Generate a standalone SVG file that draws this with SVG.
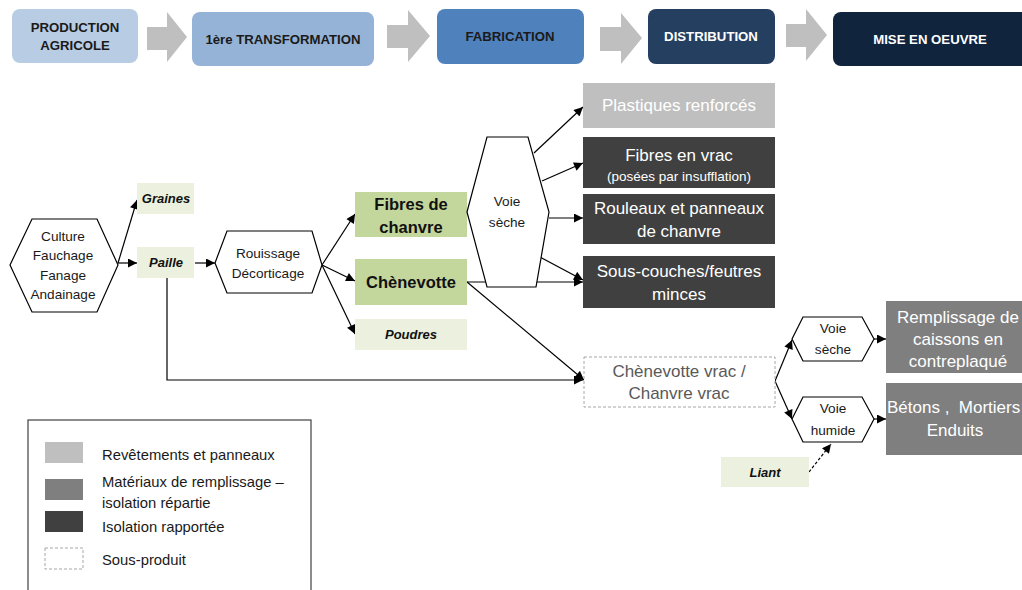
<svg xmlns="http://www.w3.org/2000/svg" width="1022" height="590" viewBox="0 0 1022 590">
  <defs>
    <marker id="ah" viewBox="0 0 10 10" refX="10" refY="5" markerWidth="10" markerHeight="9" markerUnits="userSpaceOnUse" orient="auto">
      <path d="M0,0 L10,5 L0,10 Z" fill="#000"/>
    </marker>
    <style>
      text { font-family: "Liberation Sans", Arial, sans-serif; }
      .hd { font-size: 13.2px; font-weight: bold; text-anchor: middle; }
      .chev { fill: #bfbfbf; }
      .hex { fill: #fff; stroke: #000; stroke-width: 1.2; }
      .t13 { font-size: 13.6px; text-anchor: middle; fill: #1a1a1a; }
      .sub { fill: #ebf1de; }
      .prod { fill: #c3d69b; }
      .bi { font-size: 13px; font-weight: bold; font-style: italic; text-anchor: middle; fill: #111; }
      .b15 { font-size: 16.5px; font-weight: bold; text-anchor: middle; fill: #111; }
      .out { font-size: 17px; text-anchor: middle; fill: #fff; }
      .c1 { fill: #bfbfbf; }
      .c2 { fill: #7f7f7f; }
      .c3 { fill: #404040; }
      .dash { fill: #fff; stroke: #a6a6a6; stroke-width: 1; stroke-dasharray: 3 2; }
      .lg { font-size: 14.8px; fill: #1a1a1a; }
      .conn line, .conn polyline { stroke: #000; stroke-width: 1.2; fill: none; }
    </style>
  </defs>

  <!-- Value chain header -->
  <g id="header">
    <g id="h-production">
      <rect x="12" y="9" width="126" height="54" rx="8" fill="#b8cce4"/>
      <text class="hd" x="75" y="32" fill="#1a1a1a">PRODUCTION</text>
      <text class="hd" x="75" y="50" fill="#1a1a1a">AGRICOLE</text>
    </g>
    <path class="chev" d="M147,27 H167 V12 L187,37 L167,62 V50 H147 Z"/>
    <g id="h-transformation">
      <rect x="192" y="12" width="182" height="54" rx="8" fill="#95b3d7"/>
      <text class="hd" x="283" y="44" fill="#1a1a1a">1ère TRANSFORMATION</text>
    </g>
    <path class="chev" d="M387,25 H408 V10 L430,36 L408,62 V48 H387 Z"/>
    <g id="h-fabrication">
      <rect x="437" y="9" width="147" height="55" rx="8" fill="#4f81bd"/>
      <text class="hd" x="510" y="41" fill="#1a1a1a">FABRICATION</text>
    </g>
    <path class="chev" d="M600,27 H621 V13 L642,38 L621,64 V51 H600 Z"/>
    <g id="h-distribution">
      <rect x="648" y="9" width="127" height="55" rx="8" fill="#243f60"/>
      <text class="hd" x="711" y="41" fill="#fff">DISTRIBUTION</text>
    </g>
    <path class="chev" d="M786,24 H806 V9 L827,35 L806,61 V47 H786 Z"/>
    <g id="h-miseenoeuvre">
      <rect x="833" y="12" width="200" height="54" rx="8" fill="#10243e"/>
      <text class="hd" x="930" y="44" fill="#fff">MISE EN OEUVRE</text>
    </g>
  </g>

  <!-- Connectors -->
  <g id="connectors" class="conn">
    <line x1="118" y1="263" x2="137" y2="200" marker-end="url(#ah)"/>
    <line x1="118" y1="263" x2="137" y2="263" marker-end="url(#ah)"/>
    <line x1="195" y1="263" x2="215" y2="263" marker-end="url(#ah)"/>
    <line x1="322" y1="265" x2="355" y2="214" marker-end="url(#ah)"/>
    <line x1="322" y1="265" x2="355" y2="281" marker-end="url(#ah)"/>
    <line x1="322" y1="265" x2="355" y2="334" marker-end="url(#ah)"/>
    <polyline points="167,278 167,380 583,380" marker-end="url(#ah)"/>
    <line x1="467" y1="282" x2="583" y2="282" marker-end="url(#ah)"/>
    <line x1="467" y1="282" x2="584" y2="380" marker-end="url(#ah)"/>
    <line x1="534" y1="153" x2="583" y2="107" marker-end="url(#ah)"/>
    <line x1="542" y1="181" x2="583" y2="163" marker-end="url(#ah)"/>
    <line x1="549" y1="218" x2="583" y2="218" marker-end="url(#ah)"/>
    <line x1="538" y1="256" x2="583" y2="280" marker-end="url(#ah)"/>
    <line x1="775" y1="381" x2="792" y2="340" marker-end="url(#ah)"/>
    <line x1="775" y1="381" x2="792" y2="419" marker-end="url(#ah)"/>
    <line x1="874" y1="339" x2="886" y2="339" marker-end="url(#ah)"/>
    <line x1="874" y1="419" x2="886" y2="419" marker-end="url(#ah)"/>
    <line x1="809" y1="472" x2="831" y2="444" stroke-dasharray="3 2" marker-end="url(#ah)"/>
  </g>

  <!-- Farming -->
  <g id="n-culture">
    <polygon class="hex" points="10,265 32,219 97,219 118,265 97,312 32,312"/>
    <text class="t13" x="63" y="241">Culture</text>
    <text class="t13" x="63" y="260">Fauchage</text>
    <text class="t13" x="63" y="280">Fanage</text>
    <text class="t13" x="63" y="299">Andainage</text>
  </g>
  <g id="n-graines">
    <rect class="sub" x="137" y="183" width="57" height="31"/>
    <text class="bi" x="166" y="203">Graines</text>
  </g>
  <g id="n-paille">
    <rect class="sub" x="137" y="247" width="57" height="31"/>
    <text class="bi" x="166" y="267">Paille</text>
  </g>
  <g id="n-rouissage">
    <polygon class="hex" points="215,263 227,231 312,231 322,265 312,293 227,293"/>
    <text class="t13" x="268" y="258">Rouissage</text>
    <text class="t13" x="268" y="278">Décorticage</text>
  </g>

  <!-- First transformation products -->
  <g id="n-fibres">
    <rect class="prod" x="355" y="192" width="112" height="45"/>
    <text class="b15" x="411" y="210">Fibres de</text>
    <text class="b15" x="411" y="233">chanvre</text>
  </g>
  <g id="n-chenevotte">
    <rect class="prod" x="355" y="259" width="112" height="46"/>
    <text class="b15" x="411" y="288">Chènevotte</text>
  </g>
  <g id="n-poudres">
    <rect class="sub" x="355" y="319" width="112" height="31"/>
    <text class="bi" x="411" y="339">Poudres</text>
  </g>
  <g id="n-voie-seche-1">
    <polygon class="hex" points="467,212 487,137 528,137 549,212 536,287 487,287"/>
    <text class="t13" x="507" y="206">Voie</text>
    <text class="t13" x="507" y="227">sèche</text>
  </g>

  <!-- Manufactured products -->
  <g id="n-plastiques">
    <rect class="c1" x="583" y="83" width="192" height="45"/>
    <text class="out" x="679" y="111">Plastiques renforcés</text>
  </g>
  <g id="n-fibres-vrac">
    <rect class="c3" x="583" y="137" width="192" height="51"/>
    <text class="out" x="679" y="161">Fibres en vrac</text>
    <text x="679" y="181" font-size="13.5" text-anchor="middle" fill="#fff">(posées par insufflation)</text>
  </g>
  <g id="n-rouleaux">
    <rect class="c3" x="583" y="194" width="192" height="50"/>
    <text class="out" x="679" y="214">Rouleaux et panneaux</text>
    <text class="out" x="679" y="237">de chanvre</text>
  </g>
  <g id="n-souscouches">
    <rect class="c3" x="583" y="256" width="192" height="52"/>
    <text class="out" x="679" y="277">Sous-couches/feutres</text>
    <text class="out" x="679" y="300">minces</text>
  </g>
  <g id="n-chenevotte-vrac">
    <rect class="dash" x="584" y="357" width="191" height="50"/>
    <text class="out" x="679" y="377" style="fill:#595959">Chènevotte vrac /</text>
    <text class="out" x="679" y="399" style="fill:#595959">Chanvre vrac</text>
  </g>

  <!-- Implementation -->
  <g id="n-voie-seche-2">
    <polygon class="hex" points="792,339 803,317 862,317 874,339 862,361 803,361"/>
    <text class="t13" x="833" y="333">Voie</text>
    <text class="t13" x="833" y="354">sèche</text>
  </g>
  <g id="n-voie-humide">
    <polygon class="hex" points="792,419 803,397 862,397 874,419 862,442 803,442"/>
    <text class="t13" x="833" y="413">Voie</text>
    <text class="t13" x="833" y="435">humide</text>
  </g>
  <g id="n-remplissage">
    <rect class="c2" x="886" y="301" width="140" height="72"/>
    <text class="out" x="958" y="323">Remplissage de</text>
    <text class="out" x="958" y="345">caissons en</text>
    <text class="out" x="958" y="367">contreplaqué</text>
  </g>
  <g id="n-betons">
    <rect class="c2" x="886" y="383" width="140" height="72"/>
    <text class="out" x="887" y="413" style="text-anchor:start;white-space:pre" xml:space="preserve">Bétons ,  Mortiers</text>
    <text class="out" x="955" y="436">Enduits</text>
  </g>
  <g id="n-liant">
    <rect class="sub" x="721" y="457" width="88" height="30"/>
    <text class="bi" x="765" y="477">Liant</text>
  </g>

  <!-- Legend -->
  <g id="legend">
    <rect x="28" y="420" width="283" height="180" fill="#fff" stroke="#404040" stroke-width="1.2"/>
    <rect class="c1" x="45" y="442" width="38" height="21"/>
    <text class="lg" x="102" y="460">Revêtements et panneaux</text>
    <rect class="c2" x="45" y="479" width="38" height="21"/>
    <text class="lg" x="102" y="487">Matériaux de remplissage –</text>
    <text class="lg" x="102" y="508">isolation répartie</text>
    <rect class="c3" x="45" y="511" width="38" height="21"/>
    <text class="lg" x="102" y="532">Isolation rapportée</text>
    <rect class="dash" x="45" y="548" width="38" height="21"/>
    <text class="lg" x="102" y="565">Sous-produit</text>
  </g>
</svg>
